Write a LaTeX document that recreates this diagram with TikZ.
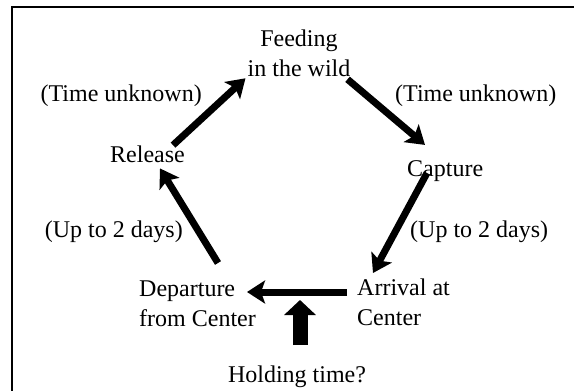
\documentclass[tikz,border=0pt]{standalone}
\usepackage{fontspec}
\setmainfont{Liberation Serif}
\usetikzlibrary{arrows.meta}

\begin{document}
\begin{tikzpicture}[x=1pt,y=-1pt,
		every node/.style={inner sep=0pt,font=\fontsize{24}{30}\selectfont},
		flow/.style={line width=7pt,-{Stealth[length=18pt,width=23pt,inset=4pt]}},
		push/.style={line width=15pt,-{Triangle[length=15pt,width=31pt]}}]
		\useasboundingbox (0,0) rectangle (574,391);
		\clip (0,0) rectangle (574,391);
		\draw [line width=2pt] (12,420) -- (12,6.5) -- (600,6.5);
		% stages of the cycle
		\node [anchor=north,align=center] (feed) at (299,30) {Feeding\\in the wild};
		\node [anchor=base west] (capture) at (407,176) {Capture};
		\node [anchor=north west,align=left] (arrival) at (357,279) {Arrival at\\Center};
		\node [anchor=north west,align=left] (depart) at (139,281) {Departure\\from Center};
		\node [anchor=base west] (release) at (110,162) {Release};
		\node [anchor=base] (hold) at (297,382) {Holding time?};
		% durations
		\node [anchor=base east] (tul) at (202,101) {(Time unknown)};
		\node [anchor=base west] (tur) at (395,101) {(Time unknown)};
		\node [anchor=base west] (udr) at (410,237) {(Up to 2 days)};
		\node [anchor=base east] (udl) at (183,237) {(Up to 2 days)};
		\coordinate (gap) at (300,300);
		% arrows
		\draw [flow] ([shift={(-12,0)}]release.north east) -- ([shift={(-2,1)}]feed.south west);
		\draw [flow] ([shift={(-3,2)}]feed.south east) -- ([shift={(18,-15)}]capture.north west);
		\draw [flow] ([shift={(20,-3)}]capture.base west) -- ([shift={(16,-6)}]arrival.north west);
		\draw [flow] ([shift={(-10,13)}]arrival.north west) -- ([shift={(-9,11)}]depart.north east);
		\draw [flow] ([shift={(79,-18)}]depart.north west) -- ([shift={(50,6)}]release.south west);
		\draw [push] ([shift={(3,-20)}]hold.north) -- (gap);
\end{tikzpicture}
\end{document}
